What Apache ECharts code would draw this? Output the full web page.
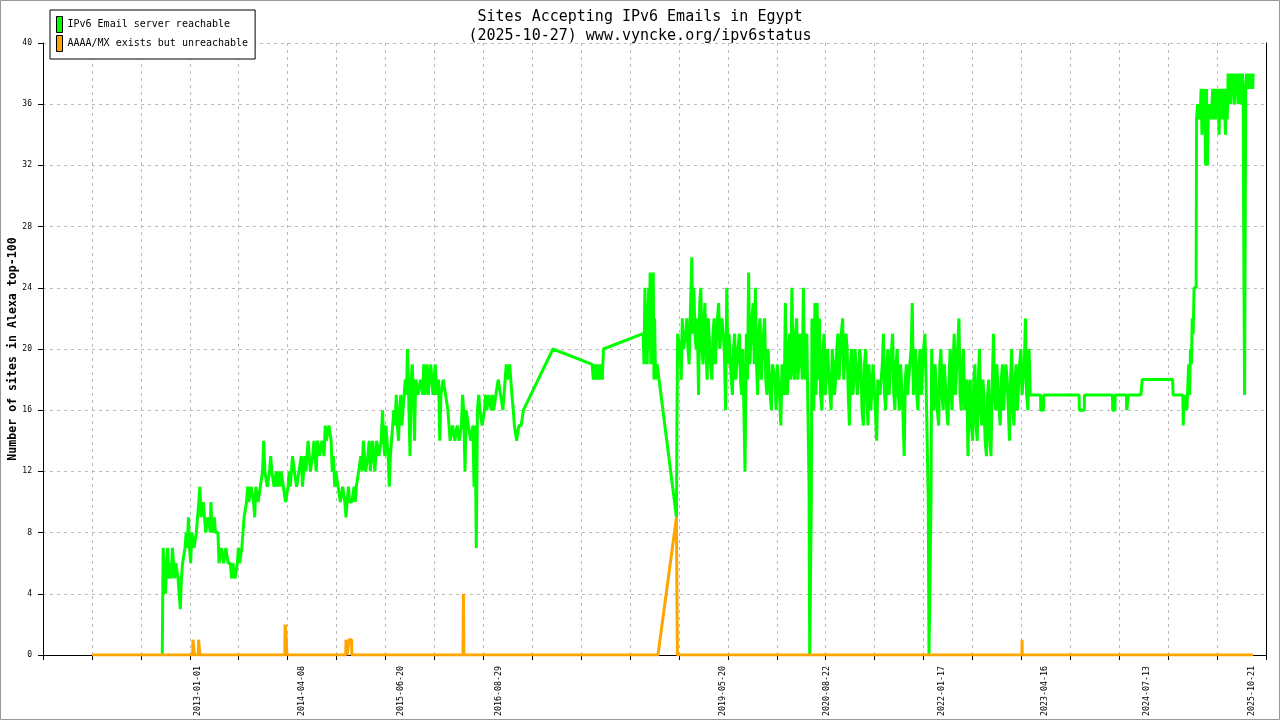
<!DOCTYPE html>
<html><head><meta charset="utf-8">
<script src="https://cdn.jsdelivr.net/npm/echarts@6/dist/echarts.min.js"></script>
<style>html,body{margin:0;padding:0;background:#fff}#c{width:1280px;height:720px}</style>
</head><body><div id="c"></div><script>
const titleLines = ['Sites Accepting IPv6 Emails in Egypt', '(2025-10-27) www.vyncke.org/ipv6status'];
const seriesNames = ['IPv6 Email server reachable', 'AAAA/MX exists but unreachable'];
const yAxisName = 'Number of sites in Alexa top-100';
const xLabelDates = ['2013-01-01','2014-04-08','2015-06-20','2016-08-29','2019-05-20','2020-08-22','2022-01-17','2023-04-16','2024-07-13','2025-10-21'];
const xRange = ['2011-02-15', '2025-12-23'];
const xTickStepDays = 217;
const xTickCount = 26;
const yRange = [0, 40];
const yStep = 4;

// Noisy stretches: one reading per 5-day slot (days 01,06,11,16,21,26 of each month)
const reachable = [
['2012-07-28',0],
['2012-08-01',7],['2012-08-06',5],['2012-08-11',4],['2012-08-16',6],['2012-08-21',7],['2012-08-26',5],
['2012-09-01',6],['2012-09-06',5],['2012-09-11',7],['2012-09-16',6],['2012-09-21',5],['2012-09-26',6],
['2012-10-01',6],['2012-10-06',5],['2012-10-11',5],['2012-10-16',3],['2012-10-21',5],['2012-10-26',6],
['2012-11-01',6],['2012-11-06',7],['2012-11-11',8],['2012-11-16',7],['2012-11-21',9],['2012-11-26',7],
['2012-12-01',6],['2012-12-06',8],['2012-12-11',8],['2012-12-16',7],['2012-12-21',7],['2012-12-26',8],
['2013-01-01',8],['2013-01-06',10],['2013-01-11',11],['2013-01-16',9],['2013-01-21',9],['2013-01-26',10],
['2013-02-01',10],['2013-02-06',8],['2013-02-11',8],['2013-02-16',9],['2013-02-21',9],['2013-02-26',8],
['2013-03-01',10],['2013-03-06',8],['2013-03-11',8],['2013-03-16',9],['2013-03-21',8],['2013-03-26',8],
['2013-04-01',8],['2013-04-06',6],['2013-04-11',6],['2013-04-16',7],['2013-04-21',7],['2013-04-26',6],
['2013-05-01',6],['2013-05-06',7],['2013-05-11',7],['2013-05-16',6],['2013-05-21',6],['2013-05-26',6],
['2013-06-01',5],['2013-06-06',6],['2013-06-11',6],['2013-06-16',5],['2013-06-21',5],['2013-06-26',6],
['2013-07-01',7],['2013-07-06',6],['2013-07-11',6],['2013-07-16',7],['2013-07-21',8],['2013-07-26',9],
['2013-08-01',9],['2013-08-06',10],['2013-08-11',11],['2013-08-16',10],['2013-08-21',10],['2013-08-26',11],
['2013-09-01',11],['2013-09-06',10],['2013-09-11',9],['2013-09-16',11],['2013-09-21',11],['2013-09-26',10],
['2013-10-01',10],['2013-10-06',11],['2013-10-11',11],['2013-10-16',12],['2013-10-21',14],['2013-10-26',12],
['2013-11-01',12],['2013-11-06',11],['2013-11-11',11],['2013-11-16',12],['2013-11-21',13],['2013-11-26',12],
['2013-12-01',12],['2013-12-06',11],['2013-12-11',11],['2013-12-16',12],['2013-12-21',11],['2013-12-26',12],
['2014-01-01',11],['2014-01-06',12],['2014-01-11',12],['2014-01-16',11],['2014-01-21',11],['2014-01-26',10],
['2014-02-01',10],['2014-02-06',11],['2014-02-11',12],['2014-02-16',11],['2014-02-21',11],['2014-02-26',13],
['2014-03-01',13],['2014-03-06',12],['2014-03-11',12],['2014-03-16',11],['2014-03-21',11],['2014-03-26',12],
['2014-04-01',12],['2014-04-06',13],['2014-04-11',11],['2014-04-16',12],['2014-04-21',13],['2014-04-26',12],
['2014-05-01',12],['2014-05-06',14],['2014-05-11',13],['2014-05-16',12],['2014-05-21',12],['2014-05-26',13],
['2014-06-01',14],['2014-06-06',13],['2014-06-11',12],['2014-06-16',14],['2014-06-21',14],['2014-06-26',13],
['2014-07-01',13],['2014-07-06',14],['2014-07-11',14],['2014-07-16',13],['2014-07-21',15],['2014-07-26',14],
['2014-08-01',14],['2014-08-06',15],['2014-08-11',15],['2014-08-16',14],['2014-08-21',12],['2014-08-26',13],
['2014-09-01',11],['2014-09-06',12],['2014-09-11',12],['2014-09-16',11],['2014-09-21',11],['2014-09-26',10],
['2014-10-01',10],['2014-10-06',11],['2014-10-11',11],['2014-10-16',10],['2014-10-21',9],['2014-10-26',10],
['2014-11-01',11],['2014-11-06',10],['2014-11-11',10],['2014-11-16',10],['2014-11-21',10],['2014-11-26',11],
['2014-12-01',10],['2014-12-06',11],['2014-12-11',11],['2014-12-16',12],['2014-12-21',12],['2014-12-26',13],
['2015-01-01',12],['2015-01-06',14],['2015-01-11',14],['2015-01-16',12],['2015-01-21',12],['2015-01-26',13],
['2015-02-01',14],['2015-02-06',12],['2015-02-11',13],['2015-02-16',14],['2015-02-21',14],['2015-02-26',12],
['2015-03-01',12],['2015-03-06',14],['2015-03-11',14],['2015-03-16',13],['2015-03-21',13],['2015-03-26',14],
['2015-04-01',16],['2015-04-06',14],['2015-04-11',13],['2015-04-16',15],['2015-04-21',14],['2015-04-26',13],
['2015-05-01',11],['2015-05-06',13],['2015-05-11',13],['2015-05-16',15],['2015-05-21',16],['2015-05-26',15],
['2015-06-01',17],['2015-06-06',15],['2015-06-11',14],['2015-06-16',16],['2015-06-21',17],['2015-06-26',15],
['2015-07-01',15],['2015-07-06',17],['2015-07-11',18],['2015-07-16',17],['2015-07-21',20],['2015-07-26',17],
['2015-08-01',13],['2015-08-06',18],['2015-08-11',19],['2015-08-16',17],['2015-08-21',14],['2015-08-26',18],
['2015-09-01',18],['2015-09-06',17],['2015-09-11',17],['2015-09-16',18],['2015-09-21',18],['2015-09-26',17],
['2015-10-01',19],['2015-10-06',17],['2015-10-11',18],['2015-10-16',19],['2015-10-21',17],['2015-10-26',18],
['2015-11-01',19],['2015-11-06',18],['2015-11-11',17],['2015-11-16',18],['2015-11-21',19],['2015-11-26',17],
['2015-12-01',17],['2015-12-06',18],['2015-12-11',14],['2015-12-16',17],['2015-12-21',17],['2015-12-26',18],
['2016-01-01',18],['2016-01-06',17],['2016-01-11',17],['2016-01-16',16],['2016-01-21',15],['2016-01-26',14],
['2016-02-01',14],['2016-02-06',15],['2016-02-11',15],['2016-02-16',14],['2016-02-21',14],['2016-02-26',15],
['2016-03-01',15],['2016-03-06',14],['2016-03-11',14],['2016-03-16',15],['2016-03-21',17],['2016-03-26',16],
['2016-04-01',12],['2016-04-06',16],['2016-04-11',16],['2016-04-16',15],['2016-04-21',15],['2016-04-26',14],
['2016-05-01',14],['2016-05-06',15],['2016-05-11',11],['2016-05-16',15],['2016-05-21',7],['2016-05-26',16],
['2016-06-01',17],['2016-06-06',16],['2016-06-11',16],['2016-06-16',15],['2016-06-21',15],['2016-06-26',16],
['2016-07-01',17],['2016-07-06',16],['2016-07-11',16],['2016-07-16',17],['2016-07-21',17],['2016-07-26',16],
['2016-08-01',17],['2016-08-06',16],['2016-08-11',16],['2016-08-16',17],['2016-08-21',17],['2016-08-26',18],
['2016-09-01',18],['2016-09-06',17],['2016-09-11',17],['2016-09-16',16],['2016-09-21',16],['2016-09-26',18],
['2016-10-01',19],['2016-10-06',18],['2016-10-11',18],['2016-10-16',19],['2016-10-21',19],['2016-10-26',17],
['2016-11-01',16],['2016-11-06',15],['2016-11-11',15],['2016-11-16',14],['2016-11-21',14],['2016-11-26',15],
['2016-12-01',15],['2016-12-06',15],['2016-12-11',15],['2016-12-16',16],['2016-12-24',16],
['2017-04-26',20],['2017-10-17',19],['2017-10-22',18],['2017-10-27',19],['2017-11-01',18],['2017-11-06',19],['2017-11-11',18],['2017-11-16',19],['2017-11-21',18],['2017-11-26',19],['2017-12-01',18],['2017-12-04',18],['2017-12-06',20],
['2018-05-31',21],['2018-06-04',19],['2018-06-08',24],['2018-06-11',20],['2018-06-15',23],['2018-06-18',19],['2018-06-21',22],['2018-06-25',24],['2018-06-28',20],['2018-07-01',25],['2018-07-04',19],['2018-07-08',24],['2018-07-11',20],['2018-07-15',25],['2018-07-18',18],['2018-07-21',22],['2018-07-25',18],['2018-08-01',19],
['2018-10-26',9],['2018-10-28',15],['2018-10-31',21],
['2018-11-05',21],['2018-11-11',20],['2018-11-16',18],['2018-11-21',22],['2018-11-26',20],
['2018-12-01',20],['2018-12-06',21],['2018-12-11',22],['2018-12-16',20],['2018-12-21',19],['2018-12-26',22],
['2019-01-02',26],['2019-01-06',21],['2019-01-11',24],['2019-01-16',21],['2019-01-21',20],['2019-01-26',22],
['2019-02-01',17],['2019-02-06',23],['2019-02-11',24],['2019-02-16',20],['2019-02-21',19],['2019-02-26',22],
['2019-03-01',23],['2019-03-06',20],['2019-03-11',18],['2019-03-16',22],['2019-03-21',22],['2019-03-26',19],
['2019-04-01',18],['2019-04-06',21],['2019-04-11',22],['2019-04-16',19],['2019-04-21',19],['2019-04-26',22],
['2019-05-01',23],['2019-05-06',20],['2019-05-11',20],['2019-05-16',22],['2019-05-21',22],['2019-05-26',20],
['2019-06-01',16],['2019-06-06',24],['2019-06-11',19],['2019-06-16',21],['2019-06-21',21],['2019-06-26',18],
['2019-07-01',17],['2019-07-06',20],['2019-07-11',21],['2019-07-16',18],['2019-07-21',18],['2019-07-26',20],
['2019-08-01',21],['2019-08-06',18],['2019-08-11',17],['2019-08-16',20],['2019-08-21',20],['2019-08-26',12],
['2019-09-01',21],['2019-09-06',18],['2019-09-11',25],['2019-09-16',19],['2019-09-21',19],['2019-09-26',22],
['2019-10-01',23],['2019-10-06',19],['2019-10-11',24],['2019-10-16',19],['2019-10-21',17],['2019-10-26',21],
['2019-11-01',22],['2019-11-06',18],['2019-11-11',18],['2019-11-16',21],['2019-11-21',22],['2019-11-26',18],
['2019-12-01',17],['2019-12-06',20],['2019-12-11',20],['2019-12-16',17],['2019-12-21',16],['2019-12-26',19],
['2020-01-01',19],['2020-01-06',18],['2020-01-11',16],['2020-01-16',19],['2020-01-21',19],['2020-01-26',17],
['2020-02-01',15],['2020-02-06',19],['2020-02-11',18],['2020-02-16',17],['2020-02-21',23],['2020-02-26',18],
['2020-03-01',17],['2020-03-06',20],['2020-03-11',21],['2020-03-16',18],['2020-03-21',24],['2020-03-26',19],
['2020-04-01',18],['2020-04-06',21],['2020-04-11',22],['2020-04-16',18],['2020-04-21',19],['2020-04-26',21],
['2020-05-01',20],['2020-05-06',18],['2020-05-11',24],['2020-05-16',19],['2020-05-21',18],['2020-05-26',21],
['2020-06-01',21],['2020-06-05',11],['2020-06-08',0],['2020-06-12',0],['2020-06-15',10],['2020-06-18',22],['2020-06-22',17],['2020-06-26',16],
['2020-07-01',23],['2020-07-06',17],['2020-07-11',23],['2020-07-16',18],['2020-07-21',22],['2020-07-26',17],
['2020-08-01',16],['2020-08-06',20],['2020-08-11',21],['2020-08-16',17],['2020-08-21',17],['2020-08-26',20],
['2020-09-01',20],['2020-09-06',17],['2020-09-11',16],['2020-09-16',20],['2020-09-21',19],['2020-09-26',17],
['2020-10-01',18],['2020-10-06',20],['2020-10-11',21],['2020-10-16',18],['2020-10-21',18],['2020-10-26',21],
['2020-11-01',22],['2020-11-06',18],['2020-11-11',18],['2020-11-16',21],['2020-11-21',20],['2020-11-26',17],
['2020-12-01',15],['2020-12-06',19],['2020-12-11',20],['2020-12-16',17],['2020-12-21',18],['2020-12-26',20],
['2021-01-01',20],['2021-01-06',17],['2021-01-11',17],['2021-01-16',20],['2021-01-21',19],['2021-01-26',16],
['2021-02-01',15],['2021-02-06',19],['2021-02-11',20],['2021-02-16',17],['2021-02-21',15],['2021-02-26',19],
['2021-03-01',19],['2021-03-06',16],['2021-03-11',16],['2021-03-16',19],['2021-03-21',19],['2021-03-26',16],
['2021-04-01',14],['2021-04-06',18],['2021-04-11',18],['2021-04-16',17],['2021-04-21',17],['2021-04-26',19],
['2021-05-01',21],['2021-05-06',17],['2021-05-11',16],['2021-05-16',19],['2021-05-21',20],['2021-05-26',17],
['2021-06-01',17],['2021-06-06',20],['2021-06-11',21],['2021-06-16',17],['2021-06-21',16],['2021-06-26',19],
['2021-07-01',20],['2021-07-06',17],['2021-07-11',16],['2021-07-16',19],['2021-07-21',19],['2021-07-26',16],
['2021-08-01',13],['2021-08-06',18],['2021-08-11',19],['2021-08-16',17],['2021-08-21',17],['2021-08-26',19],
['2021-09-01',20],['2021-09-06',23],['2021-09-11',17],['2021-09-16',19],['2021-09-21',20],['2021-09-26',17],
['2021-10-01',16],['2021-10-06',19],['2021-10-11',20],['2021-10-16',17],['2021-10-21',17],['2021-10-26',20],
['2021-11-01',21],['2021-11-06',18],['2021-11-11',18],['2021-11-16',10],['2021-11-19',0],['2021-11-25',0],['2021-11-28',10],
['2021-12-01',20],['2021-12-06',17],['2021-12-11',16],['2021-12-16',19],['2021-12-21',19],['2021-12-26',16],
['2022-01-01',15],['2022-01-06',19],['2022-01-11',20],['2022-01-16',17],['2022-01-21',16],['2022-01-26',19],
['2022-02-01',19],['2022-02-06',16],['2022-02-11',15],['2022-02-16',18],['2022-02-21',20],['2022-02-26',17],
['2022-03-01',16],['2022-03-06',19],['2022-03-11',21],['2022-03-16',17],['2022-03-21',17],['2022-03-26',20],
['2022-04-01',22],['2022-04-06',17],['2022-04-11',16],['2022-04-16',19],['2022-04-21',20],['2022-04-26',16],
['2022-05-01',17],['2022-05-06',18],['2022-05-11',13],['2022-05-16',17],['2022-05-21',18],['2022-05-26',15],
['2022-06-01',14],['2022-06-06',18],['2022-06-11',19],['2022-06-16',15],['2022-06-21',14],['2022-06-26',18],
['2022-07-01',20],['2022-07-06',16],['2022-07-11',15],['2022-07-16',18],['2022-07-21',17],['2022-07-26',14],
['2022-08-01',13],['2022-08-06',17],['2022-08-11',18],['2022-08-16',14],['2022-08-21',13],['2022-08-26',17],
['2022-09-01',21],['2022-09-06',17],['2022-09-11',16],['2022-09-16',19],['2022-09-21',19],['2022-09-26',16],
['2022-10-01',15],['2022-10-06',18],['2022-10-11',19],['2022-10-16',16],['2022-10-21',16],['2022-10-26',19],
['2022-11-01',18],['2022-11-06',16],['2022-11-11',14],['2022-11-16',18],['2022-11-21',20],['2022-11-26',16],
['2022-12-01',15],['2022-12-06',18],['2022-12-11',19],['2022-12-16',16],['2022-12-21',16],['2022-12-26',19],
['2023-01-01',20],['2023-01-06',17],['2023-01-11',17],['2023-01-16',19],['2023-01-21',22],['2023-01-26',17],
['2023-02-01',16],['2023-02-06',20],['2023-02-11',17],
['2023-03-29',17],['2023-03-30',16],['2023-04-11',16],['2023-04-12',17],['2023-09-16',17],['2023-09-17',16],['2023-10-09',16],['2023-10-10',17],
['2024-02-11',17],['2024-02-12',16],['2024-02-22',16],['2024-02-23',17],['2024-04-13',17],['2024-04-14',16],['2024-04-21',16],['2024-04-22',17],['2024-06-16',17],['2024-06-22',18],['2024-11-04',18],['2024-11-06',17],['2024-12-19',17],['2024-12-21',15],['2024-12-24',17],['2024-12-28',16],
['2025-01-02',17],['2025-01-06',16],['2025-01-10',16],['2025-01-14',19],['2025-01-18',17],['2025-01-22',20],['2025-01-26',19],['2025-01-30',22],['2025-02-03',21],['2025-02-07',24],['2025-02-16',24],
['2025-02-18',35],['2025-02-22',36],['2025-02-26',35],['2025-03-02',36],['2025-03-06',35],['2025-03-10',37],['2025-03-14',34],['2025-03-18',37],['2025-03-22',35],['2025-03-26',37],['2025-03-30',32],
['2025-04-03',37],['2025-04-07',32],['2025-04-11',36],['2025-04-15',35],['2025-04-19',36],['2025-04-23',35],['2025-04-27',36],['2025-05-01',37],['2025-05-05',35],['2025-05-09',37],['2025-05-13',35],
['2025-05-17',37],['2025-05-21',36],['2025-05-25',37],['2025-05-29',34],['2025-06-02',37],['2025-06-06',35],['2025-06-10',37],['2025-06-14',35],['2025-06-18',37],['2025-06-22',36],['2025-06-26',34],
['2025-06-30',37],['2025-07-04',35],['2025-07-08',38],['2025-07-12',36],['2025-07-16',38],['2025-07-20',36],['2025-07-24',38],['2025-07-28',37],['2025-08-01',38],['2025-08-05',36],['2025-08-09',38],
['2025-08-13',37],['2025-08-17',38],['2025-08-21',36],['2025-08-25',38],['2025-08-29',36],['2025-09-02',38],['2025-09-06',36],['2025-09-10',38],['2025-09-13',36],['2025-09-15',28],['2025-09-19',17],
['2025-09-24',37],['2025-09-28',38],['2025-10-02',37],['2025-10-06',38],['2025-10-10',37],['2025-10-14',38],['2025-10-18',37],['2025-10-22',38],['2025-10-25',37],['2025-10-27',38]
];

const unreachable = [
['2011-09-21',0],['2012-12-10',0],['2012-12-11',1],['2012-12-17',1],['2012-12-18',0],['2013-01-04',0],['2013-01-05',1],['2013-01-10',1],['2013-01-11',0],
['2014-01-23',0],['2014-01-24',2],['2014-01-28',2],['2014-01-29',1],['2014-01-31',1],['2014-02-01',0],
['2014-10-20',0],['2014-10-21',1],['2014-10-25',1],['2014-10-26',0],['2014-11-03',0],['2014-11-04',1],['2014-11-15',1],['2014-11-16',0],
['2016-03-23',0],['2016-03-24',2],['2016-03-25',4],['2016-03-26',4],['2016-03-27',0],
['2018-08-05',0],['2018-10-26',9],['2018-10-28',4],['2018-10-30',0],
['2023-01-05',0],['2023-01-06',1],['2023-01-07',0],
['2025-10-27',0]
];

const FONT = "'DejaVu Sans Mono', 'Liberation Mono', monospace";
const DAY = 86400000;
const parse = s => {
  const p = s.split('-').map(Number);
  return Date.UTC(p[0], p[1] - 1, p[2]);
};
const fmt = v => {
  const d = new Date(v);
  const z = n => (n < 10 ? '0' : '') + n;
  return d.getUTCFullYear() + '-' + z(d.getUTCMonth() + 1) + '-' + z(d.getUTCDate());
};
const xMin = parse(xRange[0]);
const xMax = parse(xRange[1]);
const tickVals = [];
for (let k = 0; k < xTickCount; k++) tickVals.push(Math.min(xMin + k * xTickStepDays * DAY, xMax));
const toPts = arr => arr.map(d => [parse(d[0]), d[1]]);

const chart = echarts.init(document.getElementById('c'), null, {renderer: 'canvas'});
chart.setOption({
  animation: false,
  backgroundColor: '#fff',
  title: {
    text: titleLines.join('\n'), left: 'center', top: 3,
    textStyle: {fontFamily: FONT, fontSize: 15, fontWeight: 'normal', color: '#000', lineHeight: 19}
  },
  legend: {
    orient: 'vertical', left: 50, top: 10, data: seriesNames, icon: 'rect',
    itemWidth: 6, itemHeight: 16, itemGap: 2, padding: [6, 7, 7, 6],
    backgroundColor: '#fff', borderColor: '#000', borderWidth: 1, borderRadius: 0,
    textStyle: {fontFamily: FONT, fontSize: 10, color: '#000'},
    itemStyle: {borderColor: '#000', borderWidth: 1}, z: 10
  },
  grid: {left: 43, right: 14, top: 43, bottom: 65, containLabel: false, outerBoundsMode: 'none'},
  xAxis: {
    type: 'value', min: xMin, max: xMax,
    axisLine: {show: true, onZero: false, lineStyle: {color: '#000', width: 1}},
    axisTick: {show: true, length: 5, customValues: tickVals, lineStyle: {color: '#000'}},
    axisLabel: {
      customValues: xLabelDates.map(parse), rotate: 90, margin: 11,
      fontFamily: FONT, fontSize: 8.3, color: '#000',
      formatter: v => fmt(v)
    },
    splitLine: {show: true, lineStyle: {color: '#bbb', type: [3, 4], width: 1}}
  },
  yAxis: [{
    type: 'value', min: yRange[0], max: yRange[1], interval: yStep,
    name: yAxisName, nameLocation: 'middle', nameGap: 24, nameRotate: 90, nameMoveOverlap: false,
    nameTextStyle: {fontFamily: FONT, fontSize: 11.6, fontWeight: 'bold', color: '#000'},
    axisLine: {show: true, lineStyle: {color: '#000'}},
    axisTick: {show: true, length: 5, lineStyle: {color: '#000'}},
    axisLabel: {fontFamily: FONT, fontSize: 8, color: '#000', margin: 11},
    splitLine: {show: true, lineStyle: {color: '#bbb', type: [3, 4], width: 1}}
  }, {
    type: 'value', position: 'right', min: yRange[0], max: yRange[1],
    axisLine: {show: true, lineStyle: {color: '#000'}},
    axisTick: {show: false}, axisLabel: {show: false}, splitLine: {show: false}
  }],
  series: [{
    name: seriesNames[0], type: 'line', data: toPts(reachable), symbol: 'none', showSymbol: false,
    lineStyle: {color: '#00ff00', width: 3}, itemStyle: {color: '#00ff00'}, z: 2
  }, {
    name: seriesNames[1], type: 'line', data: toPts(unreachable), symbol: 'none', showSymbol: false,
    lineStyle: {color: '#ffa500', width: 3}, itemStyle: {color: '#ffa500'}, z: 3
  }],
  graphic: [{
    type: 'rect', silent: true, z: 100,
    shape: {x: 0.5, y: 0.5, width: 1279, height: 719},
    style: {fill: 'transparent', stroke: '#999', lineWidth: 1}
  }]
});
</script></body></html>
